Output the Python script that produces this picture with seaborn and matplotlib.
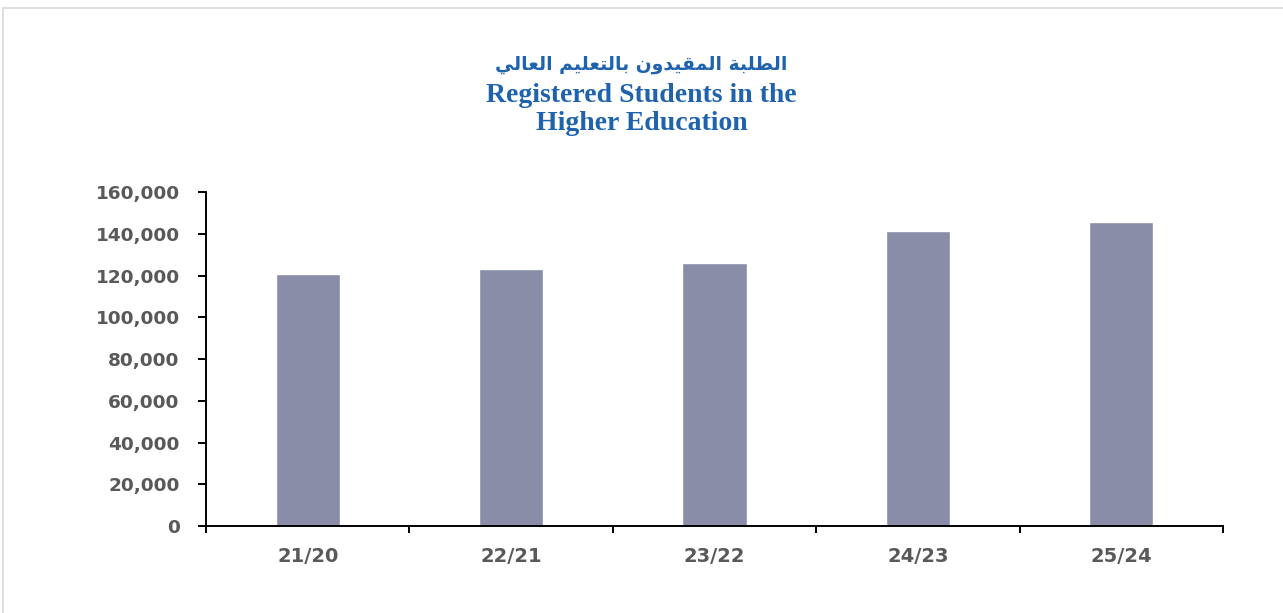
import matplotlib
matplotlib.use("Agg")
import matplotlib.pyplot as plt
import seaborn as sns
import pandas as pd
from matplotlib.patches import Rectangle
from matplotlib.ticker import FuncFormatter, FixedLocator

categories = ["21/20", "22/21", "23/22", "24/23", "25/24"]
values = [120800, 123200, 126100, 141400, 145700]
yticks = [0, 20000, 40000, 60000, 80000, 100000, 120000, 140000, 160000]

title_en_1 = "Registered Students in the"
title_en_2 = "Higher Education"
# "الطلبة المقيدون بالتعليم العالي" shaped into presentation forms (logical order)
title_ar_words = [
    "\uFE8D\uFEDF\uFEC4\uFEE0\uFE92\uFE94",            # الطلبة
    "\uFE8D\uFEDF\uFEE4\uFED8\uFEF4\uFEAA\uFEED\uFEE5",  # المقيدون
    "\uFE91\uFE8E\uFEDF\uFE98\uFECC\uFEE0\uFEF4\uFEE2",  # بالتعليم
    "\uFE8D\uFEDF\uFECC\uFE8E\uFEDF\uFEF2",            # العالي
]
title_ar = " ".join(title_ar_words)[::-1]  # visual order for LTR renderer

sns.set_style("white")
plt.rcParams["font.family"] = ["DejaVu Sans"]

W, H = 1283, 613
fig = plt.figure(figsize=(W / 100, H / 100), dpi=100)
fig.patches.append(Rectangle((2.5 / W, -0.05), 1.1, 1 - 8 / H + 0.05,
                             transform=fig.transFigure, fill=False,
                             edgecolor="#D9D9D9", lw=1.2))

ax = fig.add_axes([206 / W, 87 / H, (1223 - 206) / W, (526 - 192.3) / H])
df = pd.DataFrame({"year": categories, "students": values})
sns.barplot(data=df, x="year", y="students", color="#898DA7", saturation=1,
            width=0.315, ax=ax)

ax.set_xlim(-0.5, len(categories) - 0.5)
ax.set_ylim(0, 160000)
ax.set_yticks(yticks)
ax.yaxis.set_major_formatter(FuncFormatter(lambda v, p: f"{int(v):,}"))
ax.xaxis.set_minor_locator(FixedLocator([i - 0.5 for i in range(len(categories) + 1)]))
ax.set_xlabel("")
ax.set_ylabel("")

for s in ["top", "right"]:
    ax.spines[s].set_visible(False)
for s in ["left", "bottom"]:
    ax.spines[s].set_color("black")
    ax.spines[s].set_linewidth(1.4)

ax.tick_params(axis="x", which="major", length=0, pad=15, labelsize=14,
               labelcolor="#595959")
ax.tick_params(axis="x", which="minor", length=5, width=1.4, color="black",
               direction="out", bottom=True)
ax.tick_params(axis="y", which="major", length=6, width=1.4, color="black",
               direction="out", left=True, pad=13, labelsize=13.3,
               labelcolor="#595959")
for lab in ax.get_xticklabels() + ax.get_yticklabels():
    lab.set_fontweight("bold")

title_color = "#1F62AE"
fig.text(0.5, 1 - 65 / H, title_ar, ha="center", va="center", fontsize=13.5,
         fontweight="bold", color=title_color, family=["DejaVu Sans"])
fig.text(0.5, 1 - 95 / H, title_en_1, ha="center", va="center", fontsize=20,
         fontweight="bold", color=title_color, family=["Liberation Serif"])
fig.text(0.5, 1 - 123 / H, title_en_2, ha="center", va="center", fontsize=20,
         fontweight="bold", color=title_color, family=["Liberation Serif"])

fig.savefig("out.png", dpi=100, facecolor="white")
